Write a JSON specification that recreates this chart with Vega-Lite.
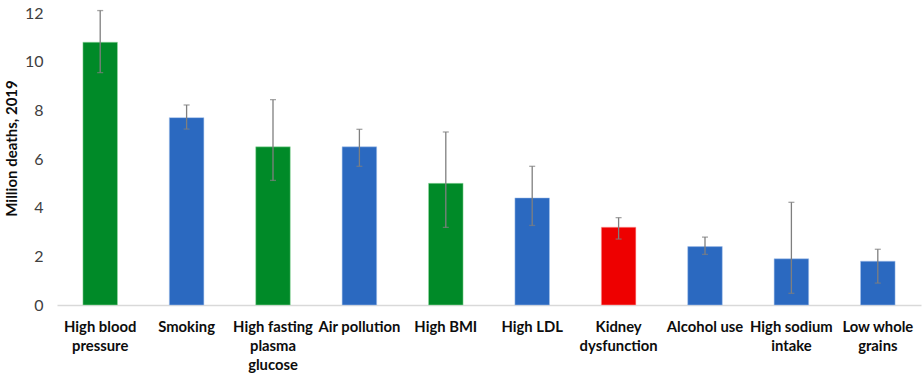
{
  "$schema": "https://vega.github.io/schema/vega-lite/v6.json",
  "width": 864,
  "height": 292,
  "autosize": "none",
  "padding": {"left": 57, "top": 13, "right": 3, "bottom": 70},
  "background": "white",
  "config": {
    "view": {"stroke": null},
    "font": "Lato"
  },
  "data": {
    "values": [
      {"risk": "High blood pressure", "deaths": 10.8, "lo": 9.55, "hi": 12.1, "group": "green"},
      {"risk": "Smoking", "deaths": 7.7, "lo": 7.23, "hi": 8.22, "group": "blue"},
      {"risk": "High fasting plasma glucose", "deaths": 6.5, "lo": 5.12, "hi": 8.44, "group": "green"},
      {"risk": "Air pollution", "deaths": 6.5, "lo": 5.7, "hi": 7.22, "group": "blue"},
      {"risk": "High BMI", "deaths": 5.0, "lo": 3.19, "hi": 7.11, "group": "green"},
      {"risk": "High LDL", "deaths": 4.4, "lo": 3.27, "hi": 5.7, "group": "blue"},
      {"risk": "Kidney dysfunction", "deaths": 3.2, "lo": 2.71, "hi": 3.59, "group": "red"},
      {"risk": "Alcohol use", "deaths": 2.4, "lo": 2.08, "hi": 2.79, "group": "blue"},
      {"risk": "High sodium intake", "deaths": 1.9, "lo": 0.48, "hi": 4.22, "group": "blue"},
      {"risk": "Low whole grains", "deaths": 1.8, "lo": 0.9, "hi": 2.29, "group": "blue"}
    ]
  },
  "encoding": {
    "x": {
      "field": "risk",
      "type": "nominal",
      "sort": null,
      "scale": {"paddingInner": 0.6, "paddingOuter": 0.3},
      "axis": {
        "title": null,
        "labelAngle": 0,
        "labelFont": "Lato",
        "labelFontWeight": "bold",
        "labelFontSize": 14.8,
        "labelColor": "#0d0d0d",
        "labelPadding": 14,
        "labelLineHeight": 19,
        "labelLimit": 200,
        "labelExpr": "datum.value == 'High blood pressure' ? ['High blood', 'pressure'] : datum.value == 'High fasting plasma glucose' ? ['High fasting', 'plasma', 'glucose'] : datum.value == 'Kidney dysfunction' ? ['Kidney', 'dysfunction'] : datum.value == 'High sodium intake' ? ['High sodium', 'intake'] : datum.value == 'Low whole grains' ? ['Low whole', 'grains'] : datum.value",
        "ticks": false,
        "domainColor": "#d9d9d9",
        "domainWidth": 1.5
      }
    }
  },
  "layer": [
    {
      "mark": {"type": "bar", "strokeWidth": 1, "strokeOpacity": 0.5},
      "encoding": {
        "y": {
          "field": "deaths",
          "type": "quantitative",
          "scale": {"domain": [0, 12], "nice": false},
          "axis": {
            "title": "Million deaths, 2019",
            "titleFont": "Lato",
            "titleFontWeight": "bold",
            "titleFontSize": 15,
            "titleColor": "#0d0d0d",
            "titlePadding": 5,
            "titleY": 135,
            "values": [0, 2, 4, 6, 8, 10, 12],
            "grid": false,
            "domain": false,
            "ticks": false,
            "labelFont": "Lato",
            "labelFontSize": 16,
            "labelColor": "#404040",
            "labelPadding": 14
          }
        },
        "color": {
          "field": "group",
          "type": "nominal",
          "scale": {"domain": ["green", "blue", "red"], "range": ["#008A28", "#2B69C0", "#EE0000"]},
          "legend": null
        },
        "stroke": {
          "field": "group",
          "type": "nominal",
          "scale": {"domain": ["green", "blue", "red"], "range": ["#9be0a8", "#a8c4ee", "#ffb0b0"]},
          "legend": null
        }
      }
    },
    {
      "mark": {"type": "rule", "color": "#7f7f7f", "strokeWidth": 1.3},
      "encoding": {
        "y": {"field": "lo", "type": "quantitative"},
        "y2": {"field": "hi"}
      }
    },
    {
      "mark": {"type": "tick", "color": "#7f7f7f", "thickness": 1.3, "size": 6},
      "encoding": {"y": {"field": "lo", "type": "quantitative"}}
    },
    {
      "mark": {"type": "tick", "color": "#7f7f7f", "thickness": 1.3, "size": 6},
      "encoding": {"y": {"field": "hi", "type": "quantitative"}}
    }
  ]
}
